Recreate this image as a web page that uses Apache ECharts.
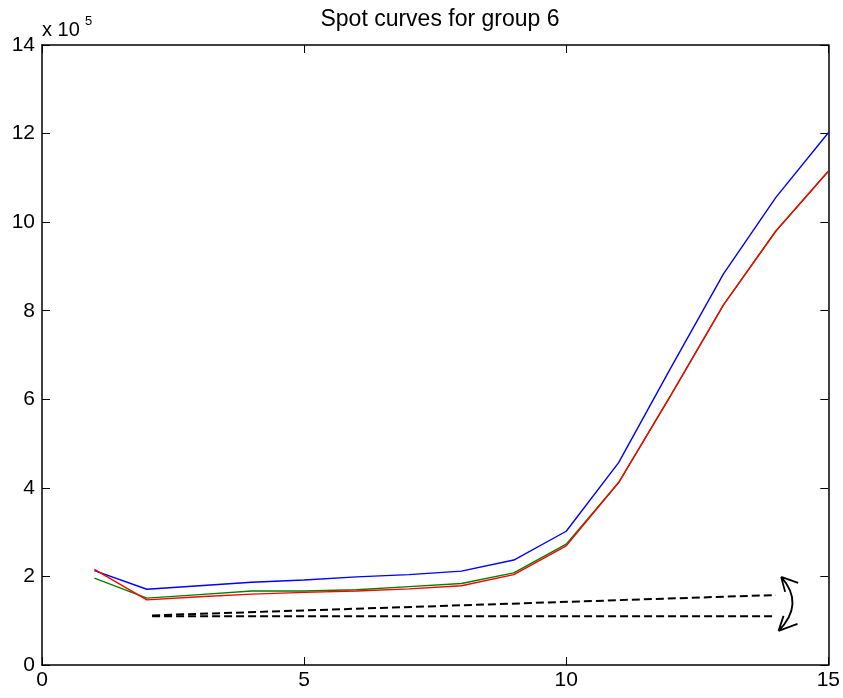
<!DOCTYPE html>
<html><head><meta charset="utf-8">
<script src="https://cdn.jsdelivr.net/npm/echarts@6/dist/echarts.min.js"></script>
<style>html,body{margin:0;padding:0;background:#fff}#c{width:843px;height:698px}</style>
</head><body><div id="c"></div>
<script>
// values in units of 1e5
const maturities = [1,2,3,4,5,6,7,8,9,10,11,12,13,14,15];
const blueCurve  = [2.13,1.71,1.79,1.87,1.92,1.99,2.04,2.12,2.37,3.02,4.57,6.72,8.83,10.56,12.02];
const greenCurve = [1.96,1.51,1.59,1.67,1.67,1.70,1.77,1.84,2.08,2.73,4.12,6.10,8.13,9.80,11.15];
const redCurve   = [2.16,1.47,1.54,1.60,1.64,1.67,1.72,1.79,2.04,2.69,4.12,6.10,8.13,9.80,11.15];
const dashUpper  = [[2.1,1.12],[14,1.58]];
const dashLower  = [[2.1,1.10],[14,1.10]];
const arrowEnds  = [[14.1,1.99],[14.05,0.77]];
const xTicks = [0,5,10,15];
const yTicks = [0,2,4,6,8,10,12,14];

const chart = echarts.init(document.getElementById('c'));
const font = 'Liberation Sans, Arial, sans-serif';
const pair = (xs, ys) => xs.map((x,i)=>[x, ys[i]]);
const axCommon = {
  axisLine:{show:true,onZero:false,lineStyle:{color:'#000',width:1.5}},
  axisTick:{show:true,inside:true,length:8,lineStyle:{color:'#000',width:1}},
  splitLine:{show:false}
};
chart.setOption({
  animation:false,
  backgroundColor:'#fff',
  title:{text:'Spot curves for group 6',left:435,top:3,textAlign:'center',
    textStyle:{fontFamily:font,fontSize:23,fontWeight:'normal',color:'#000'}},
  grid:{left:42,right:13,top:45,bottom:33,containLabel:false},
  xAxis:[
    Object.assign({type:'value',min:xTicks[0],max:xTicks[xTicks.length-1],interval:5,position:'bottom',
      axisLabel:{fontFamily:font,fontSize:21,color:'#000',margin:5}},axCommon),
    Object.assign({type:'value',min:0,max:15,interval:5,position:'top',axisLabel:{show:false}},axCommon)
  ],
  yAxis:[
    Object.assign({type:'value',min:yTicks[0],max:yTicks[yTicks.length-1],interval:2,position:'left',
      axisLabel:{fontFamily:font,fontSize:21,color:'#000',margin:7}},axCommon),
    Object.assign({type:'value',min:0,max:14,interval:2,position:'right',axisLabel:{show:false}},axCommon)
  ],
  graphic:[
    {type:'text',x:42,y:40,style:{text:'x 10',fontFamily:font,fontSize:20,fill:'#000',verticalAlign:'bottom',align:'left'}},
    {type:'text',x:85,y:28,style:{text:'5',fontFamily:font,fontSize:13,fill:'#000',verticalAlign:'bottom',align:'left'}}
  ],
  series:[
    {type:'line',data:pair(maturities,blueCurve),showSymbol:false,lineStyle:{color:'#0000ff',width:1.4},z:3},
    {type:'line',data:pair(maturities,greenCurve),showSymbol:false,lineStyle:{color:'#008000',width:1.4},z:4},
    {type:'line',data:pair(maturities,redCurve),showSymbol:false,lineStyle:{color:'#ff0000',width:1.4},z:5},
    {type:'line',data:dashUpper,showSymbol:false,lineStyle:{color:'#000',width:2,type:[8,4]},z:6},
    {type:'line',data:dashLower,showSymbol:false,lineStyle:{color:'#000',width:2,type:[8,4]},z:6},
    {type:'custom',data:[0],z:7,renderItem:function(params,api){
      const a = api.coord(arrowEnds[0]), b = api.coord(arrowEnds[1]);
      const midY = (a[1]+b[1])/2;
      const path = `M${a[0]} ${a[1]} Q${a[0]+24} ${midY} ${b[0]} ${b[1]}` +
        ` M${a[0]} ${a[1]} L${a[0]+17} ${a[1]+6} M${a[0]} ${a[1]} L${a[0]+4} ${a[1]+15}` +
        ` M${b[0]} ${b[1]} L${b[0]+19} ${b[1]-7} M${b[0]} ${b[1]} L${b[0]+5} ${b[1]-15}`;
      return {type:'path',shape:{pathData:path},style:{stroke:'#000',lineWidth:1.8,fill:null}};
    }}
  ]
});
</script></body></html>
